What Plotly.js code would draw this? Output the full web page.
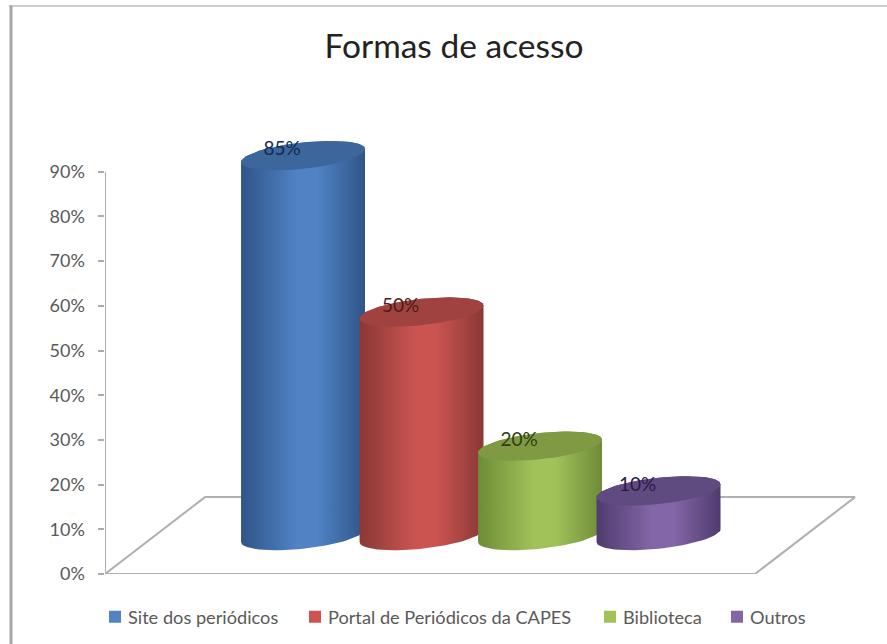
<!DOCTYPE html>
<html><head><meta charset="utf-8">
<script src="https://cdn.plot.ly/plotly-3.0.1.min.js"></script>
<style>html,body{margin:0;padding:0;background:#fff}#c{width:887px;height:644px}
.legend .layers,.legend2 .layers,.legend3 .layers,.legend4 .layers{transform:translate(7px,0)}</style>
</head><body><div id="c"></div>
<script>
var categories = ['Site dos periódicos','Portal de Periódicos da CAPES','Biblioteca','Outros'];
var values = [85,50,20,10];
var labels = ['85%','50%','20%','10%'];
var tickVals = [0,10,20,30,40,50,60,70,80,90];
var mainColors = ['#5082c4','#cb5451','#a0c259','#8366a7'];
var edgeColors = ['#2f5588','#8a3835','#6f8b37','#4f3b6e'];
var capColors = ['#3c669c','#a04340','#7f9a43','#604b80'];
var labelColors = ['#12294f','#4a1b19','#2d3f10','#2a1a46'];
var legendNames = ['legend','legend2','legend3','legend4'];
var legendTextX = [128,328,623,750];

var W=887,H=644,L=105,R=860,T=127.3,B=574;
var xMin=-1.671,xMax=4.70,yMax=100;
var baseLevel=8.6, radius=0.523, capA=2.95, capS=1.45;
var floorDepthX=0.844, floorDepthY=17.2, floorRight=3.814;
var font='Lato, Carlito, "Open Sans", sans-serif';

function capPoints(cx,level,from,to,n){
  var xs=[],ys=[];
  for(var k=0;k<=n;k++){
    var t=from+(to-from)*k/n;
    xs.push(cx+radius*Math.cos(t));
    ys.push(level+capA*Math.sin(t)+capS*Math.cos(t));
  }
  return {x:xs,y:ys};
}
var traces=[];
categories.forEach(function(c,i){
  traces.push({type:'bar',name:c,x:[i],y:[values[i]],base:[baseLevel],width:[0.9],legend:legendNames[i],
    marker:{color:mainColors[i]},showlegend:true,hoverinfo:'name+y'});
});
traces.push({type:'scatter',mode:'lines',showlegend:false,hoverinfo:'skip',
  x:[xMin,xMin],y:[0,tickVals[tickVals.length-1]],line:{color:'#acacac',width:2}});
traces.push({type:'scatter',mode:'lines',showlegend:false,hoverinfo:'skip',
  x:[xMin,floorRight,floorRight+floorDepthX,xMin+floorDepthX,xMin],
  y:[0,0,floorDepthY,floorDepthY,0],line:{color:'#b0b0b0',width:2}});
categories.forEach(function(c,i){
  var top=baseLevel+values[i];
  var a=capPoints(i,top,0,Math.PI,40), b=capPoints(i,baseLevel,Math.PI,2*Math.PI,40);
  traces.push({type:'scatter',mode:'lines',fill:'toself',showlegend:false,hoverinfo:'skip',
    x:a.x.concat(b.x,[a.x[0]]),y:a.y.concat(b.y,[a.y[0]]),line:{width:0},
    fillgradient:{type:'horizontal',colorscale:[[0,edgeColors[i]],[0.45,mainColors[i]],[0.62,mainColors[i]],[1,edgeColors[i]]]}});
  var e=capPoints(i,top,0,2*Math.PI,80);
  traces.push({type:'scatter',mode:'lines',fill:'toself',fillcolor:capColors[i],showlegend:false,hoverinfo:'skip',
    x:e.x,y:e.y,line:{width:0}});
});
traces.push({type:'scatter',mode:'text',showlegend:false,hoverinfo:'skip',
  x:values.map(function(v,i){return i-0.177;}),
  y:values.map(function(v){return baseLevel+v+1.1;}),
  text:labels,textposition:'middle center',
  textfont:{family:font,size:19,color:labelColors}});

function px(v){return (v-L)/(R-L);}
function py(v){return (B-v)/(B-T);}
var layout={
  width:W,height:H,paper_bgcolor:'#fff',plot_bgcolor:'rgba(0,0,0,0)',
  margin:{l:L,r:W-R,t:T,b:H-B,pad:0},
  title:{text:'Formas de acesso',x:454/W,xanchor:'center',y:1-46/H,yanchor:'middle',
    font:{family:font,size:33.5,color:'#222222'}},
  barmode:'overlay',
  xaxis:{type:'linear',range:[xMin,xMax],showgrid:false,zeroline:false,showline:false,showticklabels:false,ticks:''},
  yaxis:{range:[0,yMax],tickmode:'array',tickvals:tickVals,ticktext:tickVals.map(function(v){return v+'%';}),
    showgrid:false,zeroline:false,showline:false,ticks:'outside',ticklen:6.5,tickwidth:2,tickcolor:'#acacac',ticklabelstandoff:9,
    tickfont:{family:font,size:18,color:'#595959'}},
  shapes:[
    {type:'line',xref:'paper',yref:'paper',x0:px(9),x1:px(887),y0:py(6.5),y1:py(6.5),line:{color:'#bdbdbd',width:1.5}},
    {type:'line',xref:'paper',yref:'paper',x0:px(11),x1:px(11),y0:py(6),y1:py(644),line:{color:'#a6a6a6',width:3}}
  ],
  showlegend:true
};
legendNames.forEach(function(n,i){
  layout[n]={orientation:'h',x:(legendTextX[i]-40)/W,xref:'container',xanchor:'left',y:1-617/H,yref:'container',yanchor:'middle',
    bgcolor:'rgba(0,0,0,0)',font:{family:font,size:18.2,color:'#595959'}};
});
Plotly.newPlot('c',traces,layout,{displayModeBar:false,staticPlot:true});
</script></body></html>
